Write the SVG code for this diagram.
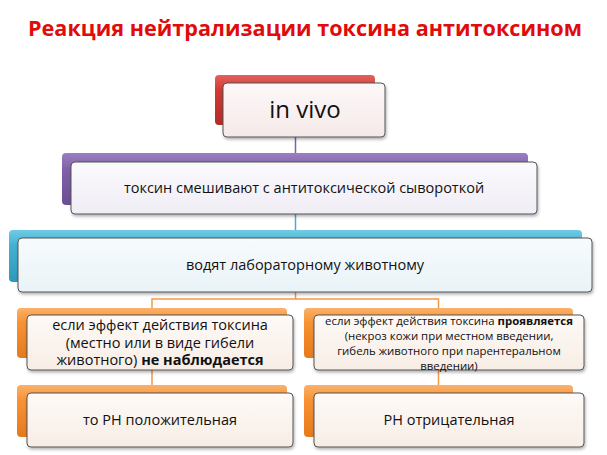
<svg xmlns="http://www.w3.org/2000/svg" width="607" height="455" viewBox="0 0 607 455">
<defs>
<linearGradient id="gRed" x1="0" y1="0" x2="0" y2="1"><stop offset="0" stop-color="#e2625c"/><stop offset="0.3" stop-color="#d23a33"/><stop offset="1" stop-color="#b52a25"/></linearGradient>
<linearGradient id="gPur" x1="0" y1="0" x2="0" y2="1"><stop offset="0" stop-color="#9b7fc0"/><stop offset="0.3" stop-color="#8162a8"/><stop offset="1" stop-color="#6a4e92"/></linearGradient>
<linearGradient id="gCya" x1="0" y1="0" x2="0" y2="1"><stop offset="0" stop-color="#6fcbe3"/><stop offset="0.3" stop-color="#43b2d2"/><stop offset="1" stop-color="#2f98b8"/></linearGradient>
<linearGradient id="gOra" x1="0" y1="0" x2="0" y2="1"><stop offset="0" stop-color="#fbb06a"/><stop offset="0.3" stop-color="#f79232"/><stop offset="1" stop-color="#e57a1c"/></linearGradient>
<linearGradient id="fRed" x1="0" y1="0" x2="0" y2="1"><stop offset="0" stop-color="#fdf8f8"/><stop offset="1" stop-color="#f5e9e9"/></linearGradient>
<linearGradient id="fPur" x1="0" y1="0" x2="0" y2="1"><stop offset="0" stop-color="#fbfafd"/><stop offset="1" stop-color="#f0edf5"/></linearGradient>
<linearGradient id="fCya" x1="0" y1="0" x2="0" y2="1"><stop offset="0" stop-color="#f7fbfd"/><stop offset="1" stop-color="#e9f3f7"/></linearGradient>
<linearGradient id="fOra" x1="0" y1="0" x2="0" y2="1"><stop offset="0" stop-color="#fefaf7"/><stop offset="1" stop-color="#f7ede5"/></linearGradient>
<filter id="sh" x="-5%" y="-10%" width="110%" height="130%"><feDropShadow dx="1" dy="2" stdDeviation="1.5" flood-color="#000" flood-opacity="0.3"/></filter>
</defs>
<style>
.back{stroke:none;}
.front{stroke:#555;stroke-width:1;filter:url(#sh);}
.t{font-family:"Open Sans","DejaVu Sans",sans-serif;fill:#111;text-anchor:middle;}
.con{fill:none;stroke-width:1.5;}
</style>
<rect width="607" height="455" fill="#fff"/>
<text x="305" y="36" textLength="554" lengthAdjust="spacingAndGlyphs" style="font-family:'Open Sans','DejaVu Sans',sans-serif;font-weight:bold;font-size:22px;fill:#e00b0b;text-anchor:middle">Реакция нейтрализации токсина антитоксином</text>

<g id="connectors">
<path class="con" stroke="#7f63a1" d="M295.5 137 V162"/>
<path class="con" stroke="#4bacc6" d="M295.5 214 V238"/>
<path class="con" stroke="#f79646" d="M295.5 292 V299 H152 V315 M295.5 299 H438.5 V315"/>
<path class="con" stroke="#f79646" d="M152 370 V393 M438.5 370 V393"/>
</g>

<g id="n-invivo">
<rect class="back" x="215" y="75" width="160" height="50" rx="4" fill="url(#gRed)"/>
<rect class="front" x="223" y="83" width="162" height="54" rx="4" fill="url(#fRed)"/>
<text class="t" x="305" y="118" font-size="24">in vivo</text>
</g>

<g id="n-mix">
<rect class="back" x="62" y="153" width="466" height="52" rx="4" fill="url(#gPur)"/>
<rect class="front" x="71" y="162" width="466" height="52" rx="4" fill="url(#fPur)"/>
<text class="t" x="304" y="193" font-size="14.5">токсин смешивают с антитоксической сывороткой</text>
</g>

<g id="n-animal">
<rect class="back" x="9" y="230" width="573" height="52" rx="4" fill="url(#gCya)"/>
<rect class="front" x="18" y="238" width="574" height="54" rx="4" fill="url(#fCya)"/>
<text class="t" x="305" y="270" font-size="14.5">водят лабораторному животному</text>
</g>

<g id="n-no-effect">
<rect class="back" x="17" y="308" width="270" height="50" rx="4" fill="url(#gOra)"/>
<rect class="front" x="27" y="315" width="266" height="55" rx="4" fill="url(#fOra)"/>
<text class="t" font-size="14.5"><tspan x="160" y="330">если эффект действия токсина</tspan><tspan x="160" y="347.5">(местно или в виде гибели</tspan><tspan x="160" y="365">животного) <tspan font-weight="bold">не наблюдается</tspan></tspan></text>
</g>

<g id="n-effect">
<rect class="back" x="304" y="308" width="269" height="50" rx="4" fill="url(#gOra)"/>
<rect class="front" x="314" y="315" width="270" height="55" rx="4" fill="url(#fOra)"/>
<text class="t" font-size="11.4"><tspan x="449" y="324.5">если эффект действия токсина <tspan font-weight="bold">проявляется</tspan></tspan><tspan x="449" y="339.8">(некроз кожи при местном введении,</tspan><tspan x="449" y="355.1">гибель животного при парентеральном</tspan><tspan x="449" y="370.4">введении)</tspan></text>
</g>

<g id="n-positive">
<rect class="back" x="17" y="385" width="270" height="52" rx="4" fill="url(#gOra)"/>
<rect class="front" x="27" y="393" width="266" height="54" rx="4" fill="url(#fOra)"/>
<text class="t" x="160" y="425" font-size="14.5">то РН положительная</text>
</g>

<g id="n-negative">
<rect class="back" x="304" y="385" width="269" height="52" rx="4" fill="url(#gOra)"/>
<rect class="front" x="314" y="393" width="270" height="54" rx="4" fill="url(#fOra)"/>
<text class="t" x="449" y="425" font-size="14.5">РН отрицательная</text>
</g>
</svg>
